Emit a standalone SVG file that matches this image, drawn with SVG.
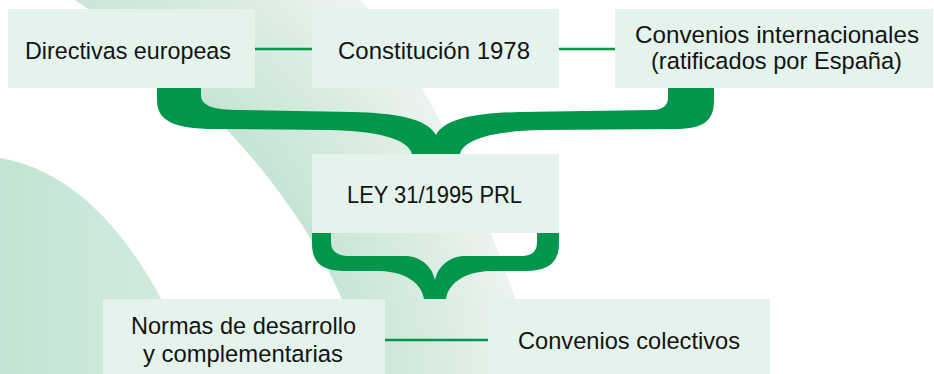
<svg xmlns="http://www.w3.org/2000/svg" width="934" height="374" viewBox="0 0 934 374">
  <style>
    .box { fill: #e4f3eb; }
    .lbl { font-family: "Liberation Sans", Arial, sans-serif; font-size: 24.5px; fill: #141413; text-anchor: middle; }
    .link { stroke: #00964b; stroke-width: 2.5; fill: none; }
    .brace { fill: #00964b; }
  </style>
  <defs>
    <linearGradient id="circleGrad" x1="0" y1="0" x2="200" y2="0" gradientUnits="userSpaceOnUse">
      <stop offset="0" stop-color="#c3e4d2"/>
      <stop offset="1" stop-color="#d3ecdf"/>
    </linearGradient>
    <radialGradient id="bandGrad" cx="-80" cy="430" r="620" gradientUnits="userSpaceOnUse">
      <stop offset="0.70" stop-color="#c6e5d4"/>
      <stop offset="0.86" stop-color="#dbece2"/>
      <stop offset="1" stop-color="#eef5f1"/>
    </radialGradient>
  </defs>

  <rect width="934" height="374" fill="#ffffff"/>

  <!-- background shapes -->
  <g id="background">
    <path d="M75,0 C160,55 300,180 350,320 L380,374 L540,374 C480,180 420,70 361,0 Z" fill="url(#bandGrad)"/>
    <path d="M0,158 C70,170 140,230 195,374 L0,374 Z" fill="url(#circleGrad)"/>
  </g>

  <!-- connectors -->
  <g id="connectors">
    <line class="link" x1="255" y1="49" x2="312" y2="49"/>
    <line class="link" x1="559" y1="49" x2="615" y2="49"/>
    <line class="link" x1="385" y1="340" x2="488" y2="340"/>
    <path class="brace" d="M157,88 L157,100 C157,120 172,129 215,129 L330,130 C375,131 408,138 412,154 L460,154 C464,138 497,131 540,130 L675,129 C705,129 714,120 714,100 L714,88 L668,88 L668,98 C668,106 662,110 652,110 L520,112 C478,113 445,118 436,135 C427,118 394,113 352,112 L240,110 C214,110 201,106 201,95 L201,88 Z"/>
    <path class="brace" d="M312,233 L312,243 C312,263 322,271 345,271 L380,271 C408,272 422,285 424,299 L446,299 C448,285 462,272 490,271 L525,271 C548,271 559,263 559,243 L559,233 L537,233 L537,242 C537,252 532,256 520,256 L465,256 C450,256 438,266 435,280 C432,266 420,256 405,256 L350,256 C338,256 331,252 331,242 L331,233 Z"/>
  </g>

  <g id="node-directivas">
    <rect class="box" x="8" y="9" width="247" height="79"/>
    <text class="lbl" x="128" y="59" textLength="206" lengthAdjust="spacingAndGlyphs">Directivas europeas</text>
  </g>

  <g id="node-constitucion">
    <rect class="box" x="312" y="9" width="247" height="79"/>
    <text class="lbl" x="434" y="59" textLength="192" lengthAdjust="spacingAndGlyphs">Constitución 1978</text>
  </g>

  <g id="node-convenios-internacionales">
    <rect class="box" x="615" y="9" width="318" height="79"/>
    <text class="lbl" x="777" y="43" textLength="284" lengthAdjust="spacingAndGlyphs">Convenios internacionales</text>
    <text class="lbl" x="776.5" y="69" textLength="251" lengthAdjust="spacingAndGlyphs">(ratificados por España)</text>
  </g>

  <g id="node-ley">
    <rect class="box" x="312" y="154" width="247" height="79"/>
    <text class="lbl" x="434.5" y="203" textLength="175" lengthAdjust="spacingAndGlyphs">LEY 31/1995 PRL</text>
  </g>

  <g id="node-normas">
    <rect class="box" x="103" y="299" width="282" height="75"/>
    <text class="lbl" x="243.5" y="334" textLength="225" lengthAdjust="spacingAndGlyphs">Normas de desarrollo</text>
    <text class="lbl" x="243" y="362" textLength="200" lengthAdjust="spacingAndGlyphs">y complementarias</text>
  </g>

  <g id="node-convenios-colectivos">
    <rect class="box" x="488" y="299" width="282" height="75"/>
    <text class="lbl" x="629" y="349" textLength="222" lengthAdjust="spacingAndGlyphs">Convenios colectivos</text>
  </g>
</svg>
